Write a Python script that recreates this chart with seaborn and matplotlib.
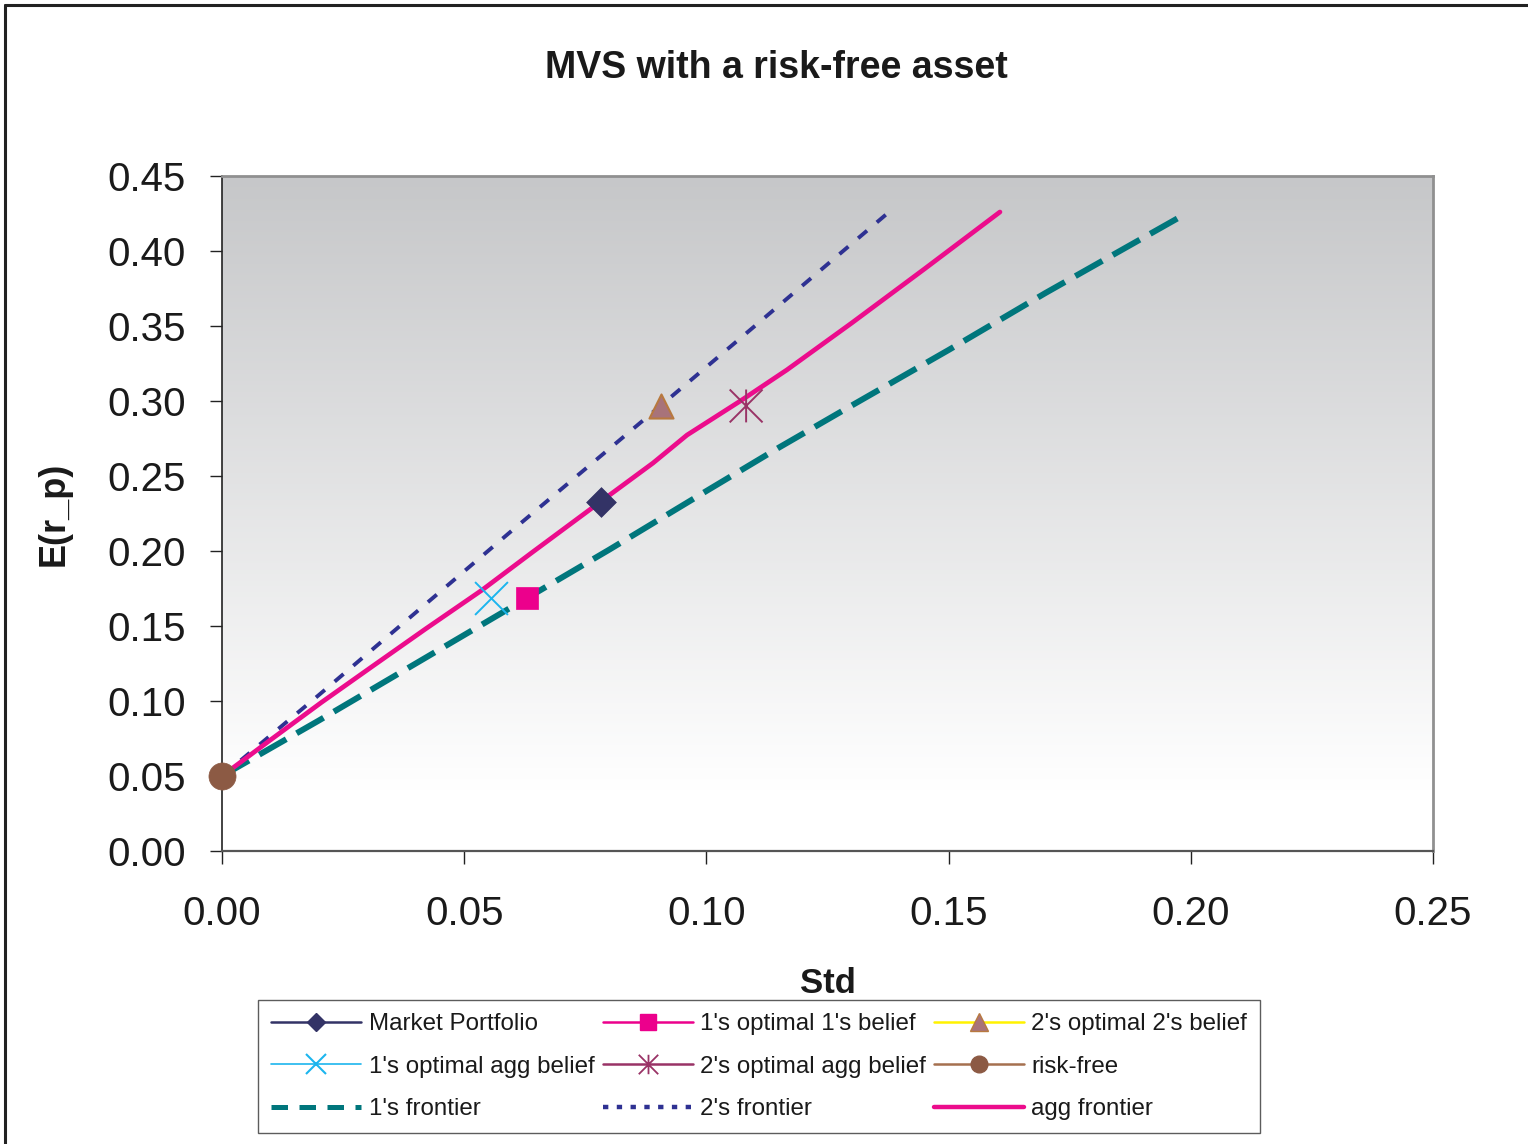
import numpy as np
import pandas as pd
import matplotlib
matplotlib.use("Agg")
import matplotlib.pyplot as plt
import seaborn as sns
from matplotlib.lines import Line2D
from matplotlib.path import Path

# ---------------- data ----------------
agg_std = [0, 0.0102, 0.0205, 0.031, 0.042, 0.0537, 0.064, 0.0782, 0.089, 0.096, 0.107, 0.1166, 0.130, 0.145, 0.1606]
agg_ret = [0.05, 0.0745, 0.099, 0.123, 0.148, 0.174, 0.199, 0.233, 0.2587, 0.2773, 0.300, 0.3207, 0.352, 0.388, 0.426]

f1_std = [0, 0.02, 0.04, 0.063, 0.08, 0.10, 0.115, 0.13, 0.15, 0.17, 0.1974]
f1_ret = [0.05, 0.087, 0.125, 0.1687, 0.201, 0.240, 0.269, 0.297, 0.334, 0.372, 0.422]

f2_std = [0, 0.02, 0.04, 0.06, 0.0906, 0.11, 0.1377]
f2_ret = [0.05, 0.104, 0.159, 0.214, 0.297, 0.350, 0.426]

point_names = ["Market Portfolio", "1's optimal 1's belief", "2's optimal 2's belief",
               "1's optimal agg belief", "2's optimal agg belief", "risk-free"]
point_std = [0.0782, 0.0630, 0.0906, 0.0555, 0.1082, 0.0]
point_ret = [0.2327, 0.1687, 0.2970, 0.1687, 0.2967, 0.05]

line_names = ["1's frontier", "2's frontier", "agg frontier"]

x_ticks = [0.00, 0.05, 0.10, 0.15, 0.20, 0.25]
y_ticks = [0.00, 0.05, 0.10, 0.15, 0.20, 0.25, 0.30, 0.35, 0.40, 0.45]

# ---------------- style ----------------
sns.set_style("white")
plt.rcParams['font.family'] = ['Liberation Sans', 'DejaVu Sans']

fig = plt.figure(figsize=(15.28, 11.44), dpi=100)
ax = fig.add_axes([222/1528, 1-851/1144, (1433-222)/1528, (851-176)/1144])

# background gradient (gray at top to white near bottom)
top = np.array([198, 199, 201]) / 255.0
n = 300
frac = np.linspace(0, 1, n)  # 0 bottom .. 1 top
t = np.clip((frac - 0.09) / 0.91, 0, 1)
grad = np.ones((n, 1, 3))
for c in range(3):
    grad[:, 0, c] = 1 - t * (1 - top[c])
ax.imshow(grad, extent=[0, 0.25, 0, 0.45], origin='lower', aspect='auto', zorder=0,
          interpolation='nearest')

teal = '#00767C'
navy_dot = '#2E3192'
pink = '#EC0C8C'

d1 = pd.DataFrame({'std': f1_std, 'ret': f1_ret})
d2 = pd.DataFrame({'std': f2_std, 'ret': f2_ret})
da = pd.DataFrame({'std': agg_std, 'ret': agg_ret})

sns.lineplot(data=d1, x='std', y='ret', ax=ax, color=teal, linewidth=4.3, sort=False,
             zorder=2, estimator=None)
ax.lines[-1].set_dashes([5.2, 2.0])
ax.lines[-1].set_dash_capstyle('butt')
sns.lineplot(data=d2, x='std', y='ret', ax=ax, color=navy_dot, linewidth=2.8, sort=False,
             zorder=2, estimator=None)
ax.lines[-1].set_dashes([3.0, 3.3])
sns.lineplot(data=da, x='std', y='ret', ax=ax, color=pink, linewidth=3.4, sort=False,
             zorder=3, estimator=None)
ax.lines[-1].set_solid_capstyle('round')
ax.lines[-1].set_solid_joinstyle('round')

# asterisk marker
ast = Path([(-1, -1), (1, 1), (-1, 1), (1, -1), (0, -1), (0, 1)],
           [Path.MOVETO, Path.LINETO, Path.MOVETO, Path.LINETO, Path.MOVETO, Path.LINETO])

styles = [
    dict(marker='D', s=230, color='#333366', edgecolor='#333366', linewidth=0.5),
    dict(marker='s', s=250, color='#EC008C', edgecolor='#EC008C', linewidth=0.5),
    dict(marker='^', s=300, color='#A8737A', edgecolor='#B8793F', linewidth=1.5),
    dict(marker='x', s=560, color='#1CB5EE', linewidth=1.4),
    dict(marker=ast, s=560, facecolor='none', edgecolor='#993366', linewidth=1.4),
    dict(marker='o', s=380, color='#8C5A44', edgecolor='#8C5A44', linewidth=0.5),
]
for i, st in enumerate(styles):
    pdf = pd.DataFrame({'std': [point_std[i]], 'ret': [point_ret[i]]})
    sns.scatterplot(data=pdf, x='std', y='ret', ax=ax, zorder=5, clip_on=False, **st)

ax.set_xlim(0, 0.25)
ax.set_ylim(0, 0.45)
ax.set_xticks(x_ticks)
ax.set_yticks(y_ticks)
ax.set_xticklabels([f"{v:.2f}" for v in x_ticks])
ax.set_yticklabels([f"{v:.2f}" for v in y_ticks])
ax.tick_params(axis='both', which='major', labelsize=29, direction='out', length=9,
               width=1, color='#222222', labelcolor='#1a1a1a')
ax.tick_params(axis='x', pad=23, bottom=True)
ax.tick_params(axis='y', pad=17, left=True)

for sp in ['top', 'right']:
    ax.spines[sp].set_color('#909090')
    ax.spines[sp].set_linewidth(2)
ax.spines['left'].set_color('#222222')
ax.spines['left'].set_linewidth(1.2)
ax.spines['bottom'].set_color('#555555')
ax.spines['bottom'].set_linewidth(1.6)

ax.set_xlabel('Std', fontsize=25, fontweight='bold', color='#1a1a1a', labelpad=24)
ax.set_ylabel('E(r_p)', fontsize=26, fontweight='bold', color='#1a1a1a', labelpad=26)
fig.text(0.508, 1-68/1144, 'MVS with a risk-free asset', fontsize=27, fontweight='bold',
         ha='center', va='center', color='#1a1a1a')

# legend (row-major reading order -> column-major for matplotlib)
h = [
    Line2D([], [], color='#333366', lw=1.8, marker='D', ms=9, mfc='#333366', mec='#333366'),
    Line2D([], [], color='#EC008C', lw=1.8, marker='s', ms=11, mfc='#EC008C', mec='#EC008C'),
    Line2D([], [], color='#FFF200', lw=1.8, marker='^', ms=13, mfc='#A8737A', mec='#B8793F'),
    Line2D([], [], color='#1CB5EE', lw=1.2, marker='x', ms=14, mew=1.5),
    Line2D([], [], color='#993366', lw=1.8, marker=ast, ms=14, mew=1.3, mfc='none', mec='#993366'),
    Line2D([], [], color='#A5704F', lw=1.8, marker='o', ms=12, mfc='#8C5A44', mec='#8C5A44'),
    Line2D([], [], color=teal, lw=3.6, dashes=[3.3, 2.3], dash_capstyle='butt'),
    Line2D([], [], color=navy_dot, lw=3.2, dashes=[1.2, 1.9]),
    Line2D([], [], color=pink, lw=3.2),
]
labels = point_names + line_names
order = [0, 3, 6, 1, 4, 7, 2, 5, 8]
leg = fig.legend([h[i] for i in order], [labels[i] for i in order],
                 ncol=3, loc='lower center', bbox_to_anchor=(0.497, 0.0096),
                 fontsize=17.4, frameon=True, fancybox=False, edgecolor='#333333',
                 handlelength=3.72, handletextpad=0.3, columnspacing=0.35,
                 labelspacing=0.84, borderpad=0.54, borderaxespad=0)
leg.get_frame().set_linewidth(1.0)
for txt in leg.get_texts():
    txt.set_color('#1a1a1a')

# outer figure frame (left and top visible)
fig.add_artist(Line2D([5/1528, 5/1528], [0, 1-5/1144], transform=fig.transFigure,
                      color='#222222', lw=2.2))
fig.add_artist(Line2D([5/1528, 1], [1-5/1144, 1-5/1144], transform=fig.transFigure,
                      color='#222222', lw=2.2))

fig.savefig('out.png', dpi=100)
